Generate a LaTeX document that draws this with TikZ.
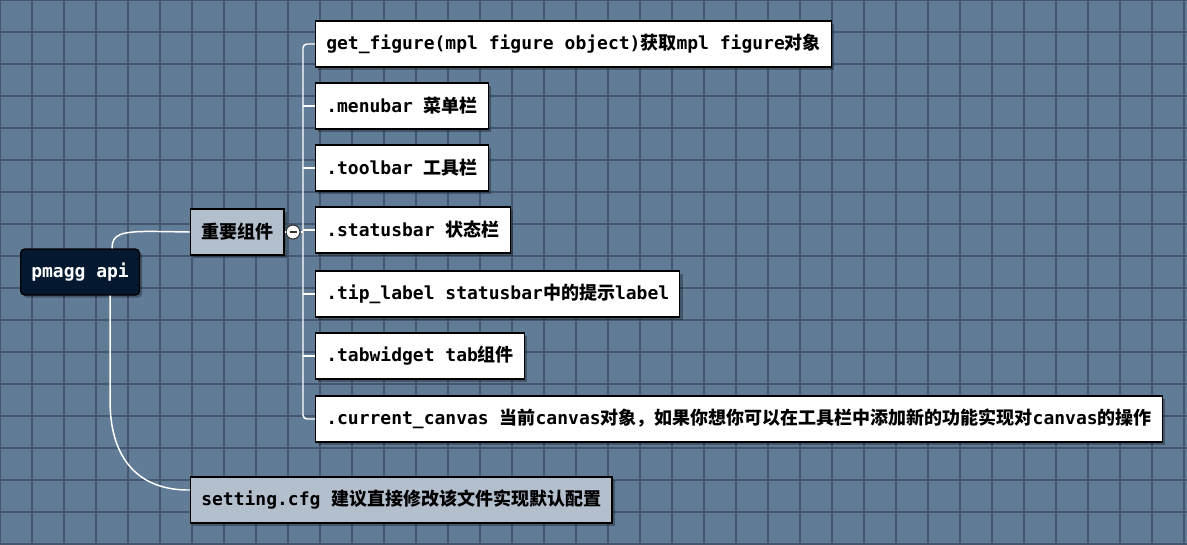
\documentclass[tikz,border=0pt]{standalone}
\usepackage{fontspec}
\setmainfont{DejaVu Sans Mono}
\newfontfamily\cjk{Noto Sans CJK SC}
\newcommand\zh[1]{{\cjk\bfseries #1}}
\usetikzlibrary{shadows,calc}
\definecolor{bgc}{HTML}{617C97}
\definecolor{gridc}{HTML}{44576C}
\definecolor{rootc}{HTML}{04192F}
\definecolor{lvlc}{HTML}{B3BFCD}
\tikzset{
  base/.style={draw=black, line width=0.9pt, anchor=west, minimum height=34.5pt,
    inner xsep=8pt, font=\fontsize{13.5pt}{16pt}\selectfont\bfseries,
    drop shadow={shadow xshift=2pt, shadow yshift=-2pt, opacity=0.3, fill=black}},
  rootbox/.style={base, fill=rootc, text=white, rounded corners=3pt},
  lvlbox/.style={base, fill=lvlc, text=black},
  leafbox/.style={base, fill=white, text=black},
  conn/.style={draw=white, line width=1.1pt},
}
\begin{document}
\begin{tikzpicture}[x=0.75pt, y=-0.75pt]
\fill[bgc] (0,0) rectangle (1187,544);
\useasboundingbox (0,0) rectangle (1187,544);
\foreach \i in {0,32,...,1184} \draw[gridc, line width=1.5pt] (\i,0) -- (\i,544);
\foreach \j in {0,32,...,544} \draw[gridc, line width=1.5pt] (0,\j) -- (1187,\j);

\node[rootbox] (root) at (20,272) {pmagg api};
\node[lvlbox] (l1) at (190,232) {\zh{重要组件}};
\node[lvlbox] (l2) at (190,500) {setting.cfg \zh{建议直接修改该文件实现默认配置}};

\node[leafbox] (c1) at (315,44) {get\_figure(mpl figure object)\zh{获取}mpl figure\zh{对象}};
\node[leafbox] (c2) at (315,106) {.menubar \zh{菜单栏}};
\node[leafbox] (c3) at (315,168) {.toolbar \zh{工具栏}};
\node[leafbox] (c4) at (315,230) {.statusbar \zh{状态栏}};
\node[leafbox] (c5) at (315,294) {.tip\_label statusbar\zh{中的提示}label};
\node[leafbox] (c6) at (315,356) {.tabwidget tab\zh{组件}};
\node[leafbox] (c7) at (315,419) {.current\_canvas \zh{当前}canvas\zh{对象，如果你想你可以在工具栏中添加新的功能实现对}canvas\zh{的操作}};

\coordinate (tx) at (303,0);
\node[circle, draw=black!80, fill=white, line width=0.8pt, minimum size=10.5pt, inner sep=0pt,
  path picture={\draw[black!80, line width=0.9pt] ($(path picture bounding box.center)+(-3.5,0)$) -- ($(path picture bounding box.center)+(3.5,0)$);}]
  (col) at (293,232) {};

\draw[conn] ($(root.north)+(32,0)$) .. controls ($(root.north)+(32,-14)$) and ($(root.north)+(40,-17)$) .. ($(root.north)+(72,-17)$) -- (l1.west);
\draw[conn] ($(root.south)+(30,0)$) -- ($(root.south)+(30,105)$) .. controls ($(root.south)+(30,165)$) and ($(root.south)+(60,195)$) .. (l2.west |- 0,490);

\draw[conn] (l1.east) -- (col.west);
\draw[conn] (col.east) -- (col.east -| tx);
\draw[conn, rounded corners=3pt] (c1.west) -- (c1.west -| tx) -- (c7.west -| tx) -- (c7.west);
\foreach \c in {c2,c3,c4,c5,c6} \draw[conn] (\c.west -| tx) -- (\c.west);
\end{tikzpicture}
\end{document}
